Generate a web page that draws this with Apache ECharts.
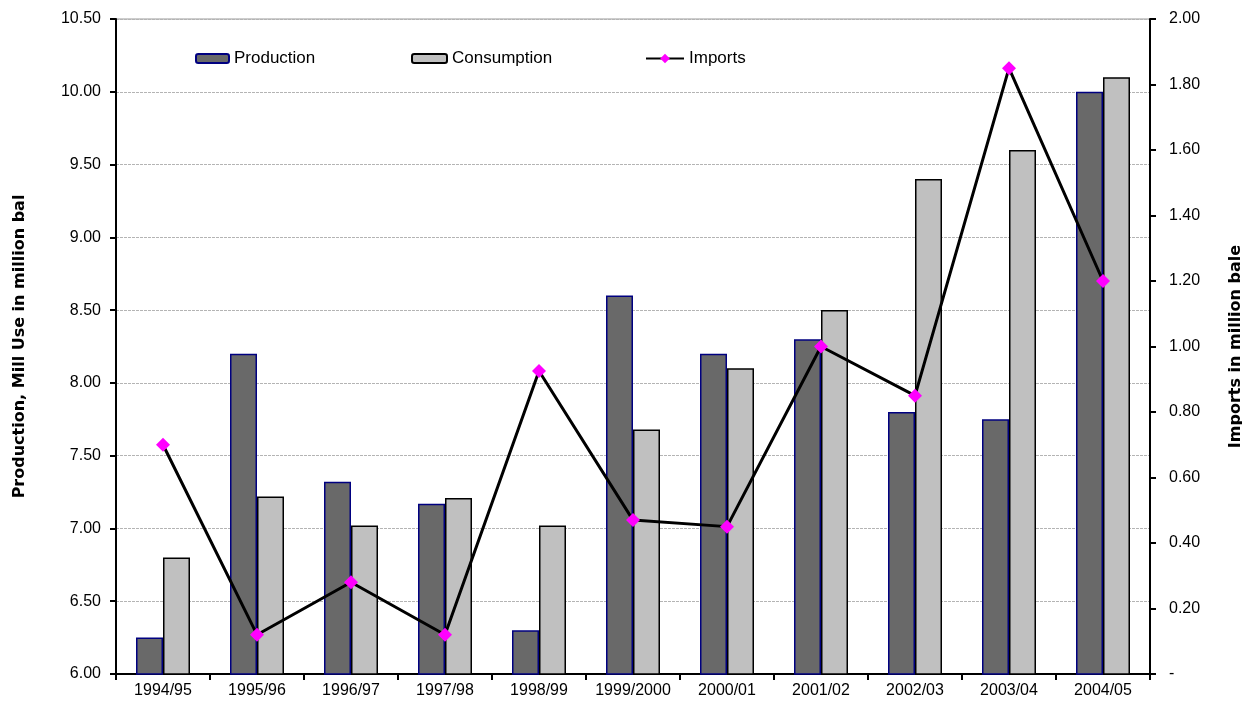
<!DOCTYPE html>
<html>
<head>
<meta charset="utf-8">
<script src="https://cdn.jsdelivr.net/npm/echarts@6/dist/echarts.min.js"></script>
<style>
html,body{margin:0;padding:0;background:#fff;}
#chart{width:1242px;height:709px;}
</style>
</head>
<body>
<div id="chart"></div>
<script>
const categories = ['1994/95','1995/96','1996/97','1997/98','1998/99','1999/2000','2000/01','2001/02','2002/03','2003/04','2004/05'];
const production = [6.25, 8.20, 7.32, 7.17, 6.30, 8.60, 8.20, 8.30, 7.80, 7.75, 10.00];
const consumption = [6.80, 7.22, 7.02, 7.21, 7.02, 7.68, 8.10, 8.50, 9.40, 9.60, 10.10];
const imports = [0.70, 0.12, 0.28, 0.12, 0.925, 0.47, 0.45, 1.00, 0.85, 1.85, 1.20];

const FONT = '"Liberation Sans", Arial, sans-serif';
const NAMEFONT = '"DejaVu Sans", "Liberation Sans", sans-serif';
const chart = echarts.init(document.getElementById('chart'), null, {renderer:'canvas'});
const legendText = {fontFamily: FONT, fontSize: 17, color: '#000'};
chart.setOption({
  animation: false,
  backgroundColor: '#fff',
  grid: {left: 116, right: 92, top: 19, bottom: 35, show: true, borderColor: '#9a9a9a', borderWidth: 1,
         outerBoundsMode: 'none', containLabel: false},
  legend: [
    {data: ['Production'], left: 190, top: 45, itemWidth: 33, itemHeight: 9, textStyle: legendText},
    {data: ['Consumption'], left: 406, top: 45, itemWidth: 35, itemHeight: 9, textStyle: legendText},
    {data: ['Imports'], left: 640, top: 45, itemWidth: 38, itemHeight: 12, textStyle: legendText}
  ],
  xAxis: {
    type: 'category',
    data: categories,
    axisLine: {lineStyle: {color: '#000', width: 2}},
    axisTick: {show: true, length: 6, lineStyle: {color: '#000', width: 2}},
    axisLabel: {fontFamily: FONT, fontSize: 16, color: '#000', margin: 9, interval: 0},
    splitLine: {show: false}
  },
  yAxis: [
    {
      type: 'value', min: 6, max: 10.5, interval: 0.5,
      name: 'Production, Mill Use in million bal',
      nameLocation: 'middle', nameGap: 88, nameRotate: 90,
      nameTextStyle: {fontFamily: NAMEFONT, fontSize: 16, fontWeight: 'bold', color: '#000'},
      axisLine: {show: true, lineStyle: {color: '#000', width: 2}},
      axisTick: {show: true, length: 6, lineStyle: {color: '#000', width: 2}},
      axisLabel: {fontFamily: FONT, fontSize: 16, color: '#000', margin: 15, formatter: v => v.toFixed(2)},
      splitLine: {show: true, lineStyle: {color: '#b4b4b4', type: [3, 1], width: 1}}
    },
    {
      type: 'value', min: 0, max: 2, interval: 0.2, position: 'right',
      name: 'Imports in million bale',
      nameLocation: 'middle', nameGap: 78, nameRotate: 90,
      nameTextStyle: {fontFamily: NAMEFONT, fontSize: 16, fontWeight: 'bold', color: '#000'},
      axisLine: {show: true, lineStyle: {color: '#000', width: 2}},
      axisTick: {show: true, length: 6, lineStyle: {color: '#000', width: 2}},
      axisLabel: {fontFamily: FONT, fontSize: 16, color: '#000', margin: 19,
        formatter: v => v === 0 ? '-' : v.toFixed(2)},
      splitLine: {show: false}
    }
  ],
  series: [
    {
      name: 'Production', type: 'bar', data: production, yAxisIndex: 0,
      barWidth: 27, barGap: '0%',
      itemStyle: {color: '#696969', borderColor: '#000080', borderWidth: 1.5}
    },
    {
      name: 'Consumption', type: 'bar', data: consumption, yAxisIndex: 0,
      barWidth: 27, barGap: '0%',
      itemStyle: {color: '#c0c0c0', borderColor: '#000', borderWidth: 1.5}
    },
    {
      name: 'Imports', type: 'line', data: imports, yAxisIndex: 1,
      symbol: 'diamond', symbolSize: 14, z: 5,
      lineStyle: {color: '#000', width: 3},
      itemStyle: {color: '#ff00ff', borderWidth: 0}
    }
  ]
});
</script>
</body>
</html>
